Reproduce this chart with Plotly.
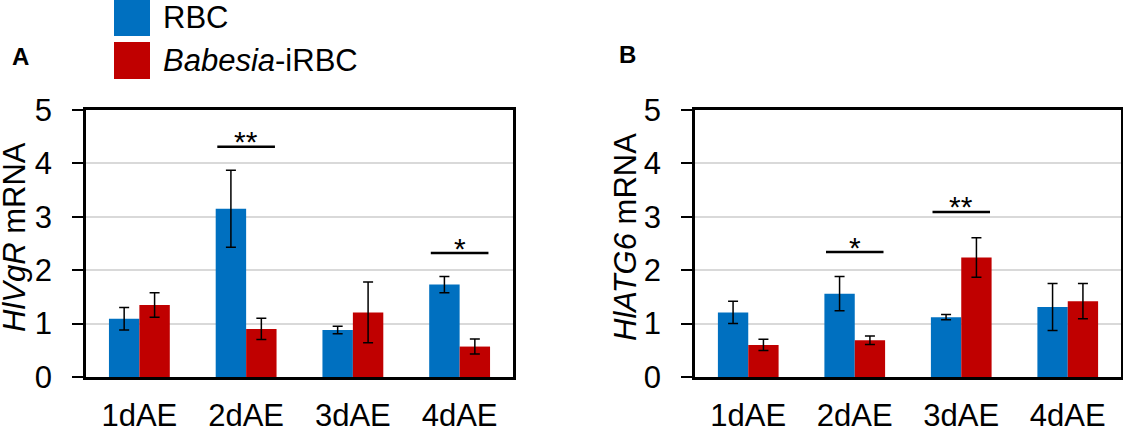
import plotly.graph_objects as go

# data
days = ["1dAE", "2dAE", "3dAE", "4dAE"]
groups = ["RBC", "<i>Babesia</i>-iRBC"]
colors = ["#0070C0", "#C00000"]

vgr_rbc = [1.09, 3.15, 0.88, 1.73]
vgr_rbc_err = [0.21, 0.72, 0.07, 0.15]
vgr_irbc = [1.35, 0.90, 1.21, 0.57]
vgr_irbc_err = [0.23, 0.20, 0.57, 0.14]

atg_rbc = [1.21, 1.56, 1.12, 1.31]
atg_rbc_err = [0.21, 0.32, 0.05, 0.44]
atg_irbc = [0.60, 0.69, 2.24, 1.42]
atg_irbc_err = [0.105, 0.08, 0.37, 0.33]

# significance marks: category index, bar height, label
sig_vgr_idx = [1, 3]
sig_vgr_y = [4.31, 2.32]
sig_vgr_txt = ["**", "*"]
sig_atg_idx = [1, 2]
sig_atg_y = [2.34, 3.09]
sig_atg_txt = ["*", "**"]

FONT = "Liberation Sans, Arial, sans-serif"
xpos = list(range(len(days)))

fig = go.Figure()


def add_bars(vals, errs, color, xa, ya):
    fig.add_trace(go.Bar(
        x=xpos, y=vals, marker_color=color, marker_line_width=0,
        error_y=dict(type="data", array=errs, color="black", thickness=1.5, width=5),
        xaxis=xa, yaxis=ya, showlegend=False, hoverinfo="skip",
    ))


add_bars(vgr_rbc, vgr_rbc_err, colors[0], "x", "y")
add_bars(vgr_irbc, vgr_irbc_err, colors[1], "x", "y")
add_bars(atg_rbc, atg_rbc_err, colors[0], "x2", "y2")
add_bars(atg_irbc, atg_irbc_err, colors[1], "x2", "y2")

W, H = 1123, 426
ydom = [1 - 377 / H, 1 - 110 / H]

xax = dict(range=[-0.5, 3.5], tickvals=xpos, ticktext=days, showgrid=False,
           showline=True, linecolor="black", linewidth=2.5, mirror=True,
           ticks="", ticklabelstandoff=9, zeroline=False, automargin=False,
           tickfont=dict(family=FONT, size=31, color="black"))
yax = dict(range=[0, 5], dtick=1, showgrid=True, gridcolor="#d9d9d9", gridwidth=1.5,
           showline=True, linecolor="black", linewidth=2.5, mirror=True,
           ticks="outside", ticklen=11, tickwidth=2, tickcolor="black",
           ticklabelstandoff=14, zeroline=False, automargin=False,
           tickfont=dict(family=FONT, size=31, color="black"))

shapes = []
annotations = []


def add_sig(idx, ys, txts, xr, yr):
    for i, y, t in zip(idx, ys, txts):
        shapes.append(dict(type="line", xref=xr, yref=yr, x0=i - 0.27, x1=i + 0.27,
                           y0=y, y1=y, line=dict(color="black", width=2.5)))
        annotations.append(dict(text=t, xref=xr, yref=yr, x=i, y=y, yanchor="middle",
                                xanchor="center", yshift=5, showarrow=False,
                                font=dict(family=FONT, size=30, color="black")))


add_sig(sig_vgr_idx, sig_vgr_y, sig_vgr_txt, "x", "y")
add_sig(sig_atg_idx, sig_atg_y, sig_atg_txt, "x2", "y2")

# legend drawn by hand (big squares as in the original)
leg_y = [[1 + 1 / H, 1 - 36 / H], [1 - 42 / H, 1 - 79 / H]]
for (y1, y0), c, g in zip(leg_y, colors, groups):
    shapes.append(dict(type="rect", xref="paper", yref="paper", x0=114 / W, x1=150 / W,
                       y0=y0, y1=y1, fillcolor=c, line_width=0))
    annotations.append(dict(text=g, xref="paper", yref="paper", x=161 / W, y=(y0 + y1) / 2,
                            xanchor="left", yanchor="middle", showarrow=False,
                            font=dict(family=FONT, size=31, color="black")))

# panel letters and axis titles
for t, x, y in [("<b>A</b>", 20, 56), ("<b>B</b>", 627, 55)]:
    annotations.append(dict(text=t, xref="paper", yref="paper", x=x / W, y=1 - y / H,
                            xanchor="center", yanchor="middle", showarrow=False,
                            font=dict(family=FONT, size=24, color="black")))
for t, x in [("<i>HlVgR</i> mRNA", 14), ("<i>HlATG6</i> mRNA", 625)]:
    annotations.append(dict(text=t, xref="paper", yref="paper", x=x / W, y=1 - 237 / H,
                            xanchor="center", yanchor="middle",
                            textangle=-90, showarrow=False,
                            font=dict(family=FONT, size=31, color="black")))

fig.update_layout(
    width=W, height=H, margin=dict(l=0, r=0, t=0, b=0),
    paper_bgcolor="white", plot_bgcolor="white",
    barmode="group", bargap=0.43, bargroupgap=0,
    xaxis=dict(xax, domain=[86 / W, 513 / W], anchor="y"),
    yaxis=dict(yax, domain=ydom, anchor="x"),
    xaxis2=dict(xax, domain=[695 / W, 1121 / W], anchor="y2"),
    yaxis2=dict(yax, domain=ydom, anchor="x2"),
    shapes=shapes, annotations=annotations,
)

fig.write_html("out.html", config={"displayModeBar": False},
               post_script="document.body.style.margin='0';")
